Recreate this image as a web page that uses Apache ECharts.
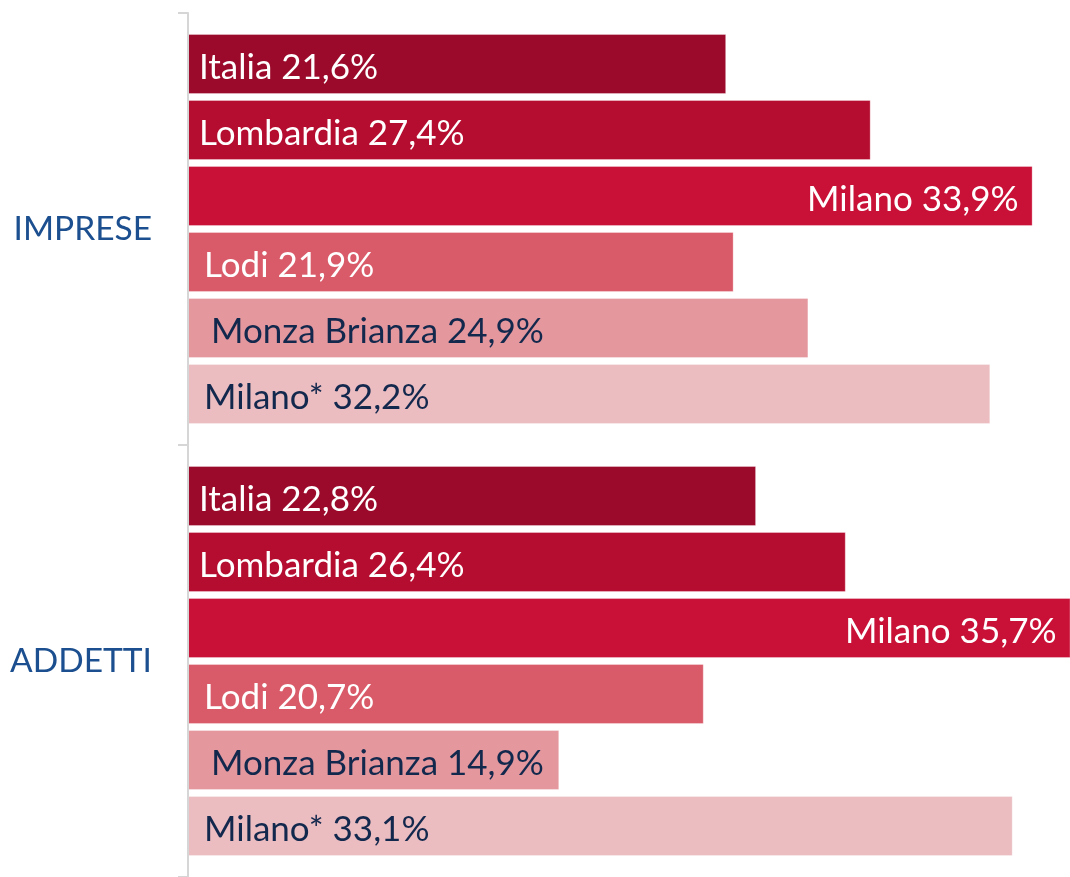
<!DOCTYPE html>
<html>
<head>
<meta charset="utf-8">
<script src="https://cdn.jsdelivr.net/npm/echarts@6/dist/echarts.min.js"></script>
<style>
  html, body { margin: 0; padding: 0; background: #fff; }
  #chart { width: 1070px; height: 877px; }
</style>
</head>
<body>
<div id="chart"></div>
<script>
    // categories (y axis, top to bottom)
    var categories = ['IMPRESE', 'ADDETTI'];

    // one series per territory
    var seriesNames = ['Italia', 'Lombardia', 'Milano', 'Lodi', 'Monza Brianza', 'Milano*'];
    var italia = [21.6, 22.8];
    var lombardia = [27.4, 26.4];
    var milano = [33.9, 35.7];
    var lodi = [21.9, 20.7];
    var monza = [24.9, 14.9];
    var milanoStar = [32.2, 33.1];

    var values = [italia, lombardia, milano, lodi, monza, milanoStar];

    var colors = ['#9b0a2a', '#b50d30', '#c91037', '#d95b69', '#e4979d', '#ebbcc0'];
    var labelColors = ['#ffffff', '#ffffff', '#ffffff', '#ffffff', '#13284d', '#13284d'];
    var labelPos = ['insideLeft', 'insideLeft', 'insideRight', 'insideLeft', 'insideLeft', 'insideLeft'];
    var labelDist = [11, 11, 14, 16, 23, 16];

    var fontFamily = 'Lato, "Open Sans", sans-serif';

    var myChart = echarts.init(document.getElementById('chart'));

    var series = seriesNames.map(function (name, i) {
        return {
            name: name,
            type: 'bar',
            data: values[i],
            barWidth: 60,
            barGap: '10%',
            itemStyle: {
                color: colors[i],
                borderColor: 'rgba(255,255,255,0.3)',
                borderWidth: 1
            },
            label: {
                show: true,
                position: labelPos[i],
                distance: labelDist[i],
                offset: [0, 4],
                color: labelColors[i],
                fontFamily: fontFamily,
                fontSize: 35,
                formatter: function (p) {
                    return p.seriesName + ' ' + p.value.toFixed(1).replace('.', ',') + '%';
                }
            }
        };
    });

    var option = {
        animation: false,
        grid: {
            left: 188,
            right: 0,
            top: 13,
            height: 869
        },
        xAxis: {
            type: 'value',
            min: 0,
            max: 35.4,
            show: false
        },
        yAxis: {
            type: 'category',
            data: categories,
            inverse: true,
            z: 5,
            axisLine: {
                show: true,
                lineStyle: { color: '#d6d6d6', width: 2 }
            },
            axisTick: {
                show: true,
                length: 10,
                lineStyle: { color: '#d6d6d6', width: 2 }
            },
            axisLabel: {
                color: '#1c4f8f',
                fontFamily: fontFamily,
                fontSize: 33.5,
                margin: 36
            },
            splitLine: { show: false }
        },
        series: series
    };

    myChart.setOption(option);
</script>
</body>
</html>
